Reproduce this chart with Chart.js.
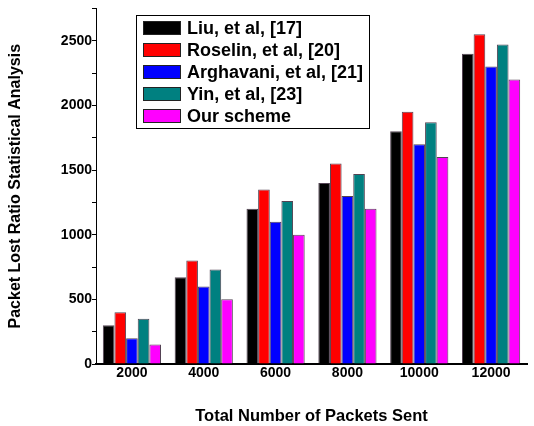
<!DOCTYPE html>
<html>
<head>
<meta charset="utf-8">
<script src="https://cdn.jsdelivr.net/npm/chart.js@4.4.0/dist/chart.umd.min.js"></script>
<style>
  html, body { margin: 0; padding: 0; background: #fff; }
  #wrap { width: 534px; height: 426px; }
</style>
</head>
<body>
<div id="wrap"><canvas id="barChart" width="534" height="426"></canvas></div>
<script>
// data
var packetsSent = ['2000', '4000', '6000', '8000', '10000', '12000'];
var liu = [300, 670, 1200, 1400, 1800, 2400];
var roselin = [400, 800, 1350, 1550, 1950, 2550];
var arghavani = [200, 600, 1100, 1300, 1700, 2300];
var yin = [350, 730, 1260, 1470, 1870, 2470];
var ourScheme = [150, 500, 1000, 1200, 1600, 2200];

var seriesNames = ['Liu, et al, [17]', 'Roselin, et al, [20]', 'Arghavani, et al, [21]', 'Yin, et al, [23]', 'Our scheme'];
var seriesColors = ['#000000', '#ff0000', '#0000ff', '#008080', '#ff00ff'];
var seriesData = [liu, roselin, arghavani, yin, ourScheme];

var boldFont = "'Liberation Sans', Arial, sans-serif";

// legend box drawn inside the plot, like the original figure
var boxLegend = {
    id: 'boxLegend',
    afterDraw: function (chart) {
        var ctx = chart.ctx;
        var x0 = 136, y0 = 15, w = 233, h = 113;
        ctx.save();
        ctx.fillStyle = '#fff';
        ctx.fillRect(x0, y0, w, h);
        ctx.strokeStyle = '#000';
        ctx.lineWidth = 1;
        ctx.strokeRect(x0 + 0.5, y0 + 0.5, w, h);
        ctx.font = 'bold 18px ' + boldFont;
        ctx.textBaseline = 'middle';
        chart.data.datasets.forEach(function (ds, i) {
            var cy = y0 + 13 + i * 22;
            ctx.fillStyle = ds.backgroundColor;
            ctx.fillRect(x0 + 7, cy - 7, 38, 14);
            ctx.strokeStyle = '#222';
            ctx.strokeRect(x0 + 7.5, cy - 6.5, 37, 13);
            ctx.fillStyle = '#000';
            ctx.fillText(ds.label, x0 + 51, cy + 1);
        });
        ctx.restore();
    }
};

var ctxBar = document.getElementById('barChart').getContext('2d');
var barChart = new Chart(ctxBar, {
    type: 'bar',
    data: {
        labels: packetsSent,
        datasets: seriesNames.map(function (name, i) {
            return {
                label: name,
                data: seriesData[i],
                backgroundColor: seriesColors[i],
                borderColor: 'rgba(40, 20, 40, 0.8)',
                borderWidth: 1,
                categoryPercentage: 0.81,
                barPercentage: 1.0
            };
        })
    },
    options: {
        responsive: false,
        animation: false,
        layout: { padding: { left: 0, top: 8, right: 7, bottom: 0 } },
        plugins: {
            legend: { display: false },
            tooltip: { enabled: false }
        },
        scales: {
            x: {
                grid: { display: false, drawTicks: false },
                border: { display: true, color: '#000', width: 2 },
                ticks: { color: '#000', font: { family: boldFont, size: 14, weight: 'bold' }, padding: 1 },
                title: {
                    display: true,
                    text: 'Total Number of Packets Sent',
                    color: '#000',
                    font: { family: boldFont, size: 16.5, weight: 'bold' },
                    padding: { top: 0, bottom: 0 }
                },
                afterFit: function (scale) { scale.height = 62; }
            },
            y: {
                min: 0,
                max: 2750,
                grid: { display: true, drawOnChartArea: false, drawTicks: true, tickLength: 4, color: '#000' },
                border: { display: true, color: '#000', width: 1 },
                ticks: {
                    stepSize: 250,
                    color: '#000',
                    padding: 0,
                    font: { family: boldFont, size: 14, weight: 'bold' },
                    callback: function (v) { return v % 500 === 0 ? v : ''; }
                },
                title: {
                    display: true,
                    text: 'Packet Lost Ratio Statistical Analysis',
                    color: '#000',
                    font: { family: boldFont, size: 16, weight: 'bold' },
                    padding: { top: 6, bottom: 0 }
                },
                afterFit: function (scale) { scale.width = 96; }
            }
        }
    },
    plugins: [boxLegend]
});
</script>
</body>
</html>
